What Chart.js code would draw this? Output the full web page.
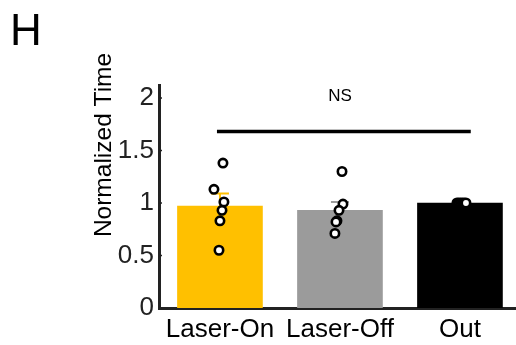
<!DOCTYPE html>
<html lang="en">
<head>
  <meta charset="UTF-8">
  <title>Normalized Time</title>
  <style>
    html, body { margin: 0; padding: 0; background: #fff; }
    .chart-container { position: relative; width: 516px; height: 345px; }
  </style>
</head>
<body>
  <div class="chart-container">
    <canvas id="timeChart" width="516" height="345"></canvas>
  </div>

  <script src="https://cdn.jsdelivr.net/npm/chart.js"></script>
  <script>
    const categories = ['Laser-On', 'Laser-Off', 'Out'];
    const means = [0.97, 0.93, 1.0];
    const sem = [0.12, 0.08, 0];
    const barColors = ['#FFC000', '#9B9B9B', '#000000'];

    // individual animals: x is category position (1..3) with a bit of spread
    const pointsX = [
      1.025, 0.95, 1.033, 1.017, 1.0, 0.992,
      2.017, 2.025, 1.992, 1.975, 1.967, 1.958,
      2.975, 2.99, 3.005, 3.02, 3.035, 3.05
    ];
    const pointsY = [
      1.38, 1.13, 1.01, 0.93, 0.83, 0.55,
      1.30, 0.99, 0.93, 0.83, 0.82, 0.71,
      1.0, 1.0, 1.0, 1.0, 1.0, 1.0
    ];

    const yTicks = [0, 0.5, 1, 1.5, 2];
    const sigFrom = 0.975, sigTo = 3.09, sigLevel = 1.68, sigText = 'NS', sigTextLevel = 2.02;
    const panelLetter = 'H';
    const yTitle = 'Normalized Time';

    const FONT = "'Liberation Sans', Arial, sans-serif";
    const INK = '#222222';

    const extras = {
      id: 'extras',
      afterDatasetDraw(chart, args) {
        if (args.index !== 1) return;
        // error bars, drawn on top of the bars but under the points
        const {ctx, scales: {x, y}} = chart;
        ctx.save();
        ctx.lineWidth = 2;
        means.forEach((m, i) => {
          if (!sem[i]) return;
          const cx = x.getPixelForValue(i + 1);
          const top = y.getPixelForValue(m + sem[i]);
          ctx.strokeStyle = barColors[i];
          ctx.beginPath();
          ctx.moveTo(cx, y.getPixelForValue(m));
          ctx.lineTo(cx, top);
          ctx.moveTo(cx - 9, top);
          ctx.lineTo(cx + 9, top);
          ctx.stroke();
        });
        ctx.restore();
      },
      afterDraw(chart) {
        const {ctx, scales: {x, y}, chartArea} = chart;
        ctx.save();
        // inward y ticks
        ctx.strokeStyle = INK;
        ctx.lineWidth = 1.5;
        yTicks.forEach(v => {
          const py = y.getPixelForValue(v);
          ctx.beginPath();
          ctx.moveTo(chartArea.left, py);
          ctx.lineTo(chartArea.left + 3, py);
          ctx.stroke();
        });
        // significance bar
        ctx.strokeStyle = '#000';
        ctx.lineWidth = 3.5;
        ctx.beginPath();
        ctx.moveTo(x.getPixelForValue(sigFrom), y.getPixelForValue(sigLevel));
        ctx.lineTo(x.getPixelForValue(sigTo), y.getPixelForValue(sigLevel));
        ctx.stroke();
        ctx.fillStyle = '#000';
        ctx.font = '17px ' + FONT;
        ctx.textAlign = 'center';
        ctx.textBaseline = 'middle';
        ctx.fillText(sigText, x.getPixelForValue(2), y.getPixelForValue(sigTextLevel));
        // panel letter
        ctx.font = '44px ' + FONT;
        ctx.textAlign = 'left';
        ctx.textBaseline = 'alphabetic';
        ctx.fillStyle = '#000';
        ctx.fillText(panelLetter, 10, 45);
        // y axis title
        ctx.font = '24.5px ' + FONT;
        ctx.translate(111, 145);
        ctx.rotate(-Math.PI / 2);
        ctx.textAlign = 'center';
        ctx.fillText(yTitle, 0, 0);
        ctx.restore();
      }
    };

    const ctx = document.getElementById('timeChart').getContext('2d');
    new Chart(ctx, {
      type: 'bar',
      data: {
        datasets: [
          {
            type: 'scatter',
            data: pointsX.map((v, i) => ({x: v, y: pointsY[i]})),
            backgroundColor: '#ffffff',
            borderColor: '#000000',
            borderWidth: 2.6,
            pointRadius: 4.2,
            order: 0
          },
          {
            type: 'bar',
            data: means.map((m, i) => ({x: i + 1, y: m})),
            backgroundColor: barColors,
            barThickness: 85,
            order: 1
          }
        ]
      },
      options: {
        responsive: false,
        animation: false,
        layout: { autoPadding: false, padding: { top: 85, left: 0, right: 0, bottom: 0 } },
        plugins: { legend: { display: false }, tooltip: { enabled: false } },
        scales: {
          x: {
            type: 'linear',
            offset: false,
            min: 0.492,
            max: 3.467,
            afterFit: s => { s.height = 37; s.paddingLeft = 0; s.paddingRight = 0; },
            afterBuildTicks: s => { s.ticks = categories.map((c, i) => ({value: i + 1})); },
            grid: { display: false, drawTicks: false, offset: false },
            border: { display: true, color: INK, width: 3 },
            ticks: {
              padding: 6,
              color: '#000',
              font: { size: 26, family: FONT },
              callback: v => categories[v - 1]
            }
          },
          y: {
            min: 0,
            max: 2.124,
            afterFit: s => { s.width = 159; },
            afterBuildTicks: s => { s.ticks = yTicks.map(v => ({value: v})); },
            grid: { display: false, drawTicks: false },
            border: { display: true, color: INK, width: 3 },
            ticks: {
              padding: 5,
              color: INK,
              font: { size: 26, family: FONT },
              callback: v => String(v)
            }
          }
        }
      },
      plugins: [extras]
    });
  </script>
</body>
</html>
